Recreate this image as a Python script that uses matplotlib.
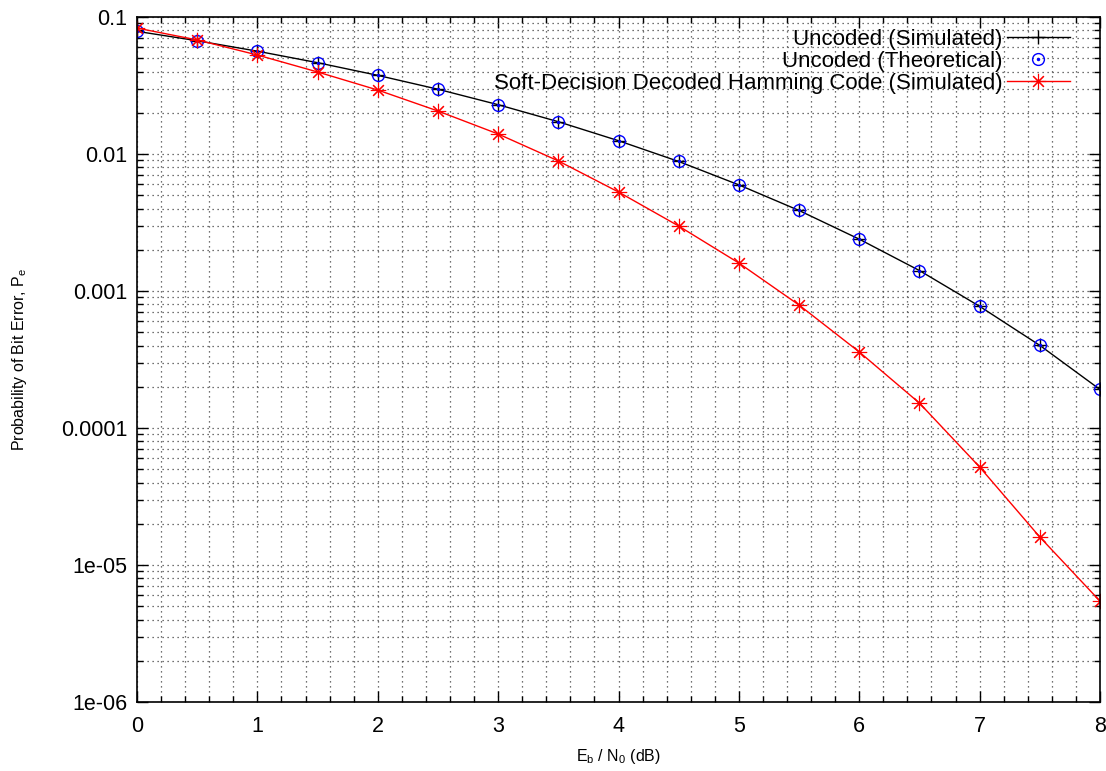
import numpy as np
import matplotlib
matplotlib.use("Agg")
import matplotlib.pyplot as plt
from matplotlib.ticker import FixedLocator, FixedFormatter, MultipleLocator, LogLocator, NullFormatter
from matplotlib.legend_handler import HandlerTuple

plt.rcParams['font.family'] = ['Liberation Sans', 'DejaVu Sans']
plt.rcParams['mathtext.fontset'] = 'custom'
plt.rcParams['mathtext.rm'] = 'Liberation Sans'

ebn0_db = [0, 0.5, 1, 1.5, 2, 2.5, 3, 3.5, 4, 4.5, 5, 5.5, 6, 6.5, 7, 7.5, 8]
uncoded_sim = [0.0786, 0.0671, 0.0563, 0.0464, 0.0375, 0.0297, 0.0229, 0.0172, 0.0125,
               0.00882, 0.00595, 0.00387, 0.00239, 0.00141, 0.000773, 0.000401, 0.000191]
uncoded_theory = [0.0786, 0.0671, 0.0563, 0.0464, 0.0375, 0.0297, 0.0229, 0.0172, 0.0125,
                  0.00882, 0.00595, 0.00387, 0.00239, 0.00141, 0.000773, 0.000401, 0.000191]
hamming_soft = [0.083, 0.068, 0.0528, 0.0397, 0.0293, 0.0206, 0.0140, 0.0089, 0.00528,
                0.00298, 0.0016, 0.00079, 0.000359, 0.000152, 5.19e-5, 1.6e-5, 5.45e-6]

y_ticks = [1e-6, 1e-5, 1e-4, 1e-3, 1e-2, 1e-1]
y_tick_labels = ["1e-06", "1e-05", "0.0001", "0.001", "0.01", "0.1"]
x_ticks = [0, 1, 2, 3, 4, 5, 6, 7, 8]

fig = plt.figure(figsize=(11.06, 7.71), dpi=100)
ax = fig.add_axes([137/1106, 1 - 702/771, (1100 - 137)/1106, (702 - 17)/771])

l1, = ax.plot(ebn0_db, uncoded_sim, color='black', lw=1.0, marker='+', ms=10, mew=1.0)
c2, = ax.plot(ebn0_db, uncoded_theory, ls='none', marker='o', ms=8.5, mfc='none', mec='#0000ff', mew=1.0)
d2, = ax.plot(ebn0_db, uncoded_theory, ls='none', marker='o', ms=1.5, mfc='#0000ff', mec='#0000ff')
l3, = ax.plot(ebn0_db, hamming_soft, color='#ff0000', lw=1.0, marker=(8, 2, 0), ms=11, mew=0.8)

ax.set_yscale('log')
ax.set_xlim(0, 8)
ax.set_ylim(1e-6, 0.1)

ax.xaxis.set_major_locator(FixedLocator(x_ticks))
ax.xaxis.set_minor_locator(MultipleLocator(0.2))
ax.yaxis.set_major_locator(FixedLocator(y_ticks))
ax.yaxis.set_major_formatter(FixedFormatter(y_tick_labels))
ax.yaxis.set_minor_locator(LogLocator(base=10, subs=np.arange(2, 10), numticks=20))
ax.yaxis.set_minor_formatter(NullFormatter())

ax.tick_params(which='both', direction='in', top=True, right=True, labelsize=15.5, color='black')
ax.tick_params(which='major', length=8, width=1)
ax.tick_params(axis='x', which='major', pad=10)
ax.tick_params(axis='y', which='major', pad=7)
ax.tick_params(which='minor', length=4, width=1)

ax.grid(True, which='both', ls=(0, (1, 3)), color='#444444', lw=0.9)
for s in ax.spines.values():
    s.set_linewidth(1.2)

ax.set_xlabel(r"E$_\mathregular{b}$ / N$_\mathregular{0}$ (dB)", fontsize=11.5, labelpad=7)
ax.set_ylabel(r"Probability of Bit Error, P$_\mathregular{e}$", fontsize=11.5, labelpad=23)

leg = ax.legend([l1, (c2, d2), l3],
                ["Uncoded (Simulated)", "Uncoded (Theoretical)",
                 "Soft-Decision Decoded Hamming Code (Simulated)"],
                handler_map={tuple: HandlerTuple(ndivide=1)},
                loc='upper right', bbox_to_anchor=(1 - 30/963, 1 - 12/685),
                frameon=False, markerfirst=False, fontsize=16,
                handlelength=2.85, handletextpad=0.18, labelspacing=0.04,
                borderaxespad=0.0, borderpad=0.0)

fig.savefig("out.png", dpi=100)
